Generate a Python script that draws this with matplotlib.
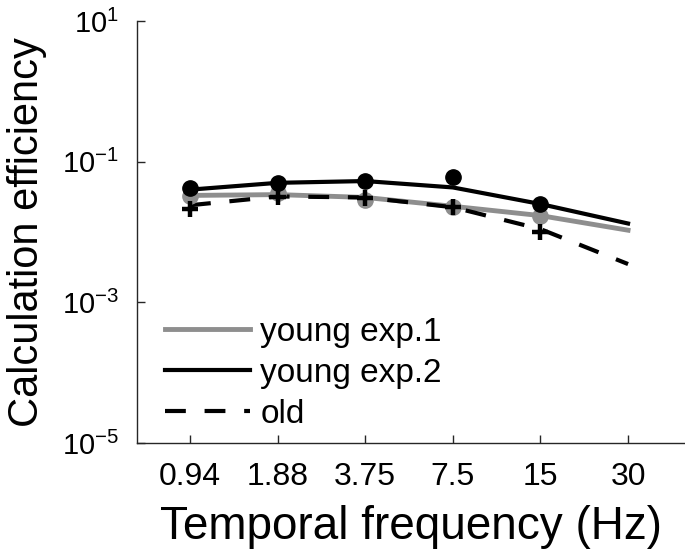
import matplotlib
matplotlib.use('Agg')
import matplotlib.pyplot as plt
import numpy as np

plt.rcParams['font.family'] = ['Liberation Sans', 'DejaVu Sans']
plt.rcParams['mathtext.fontset'] = 'custom'
plt.rcParams['mathtext.rm'] = 'Liberation Sans'
plt.rcParams['mathtext.it'] = 'Liberation Sans'

# temporal frequencies (Hz)
freqs = ['0.94', '1.88', '3.75', '7.5', '15', '30']

# measured efficiencies (markers), first five frequencies
young1_data = [0.0325, 0.0355, 0.0289, 0.0223, 0.0171]
young2_data = [0.0428, 0.0503, 0.0530, 0.0600, 0.0254]
old_data = [0.0210, 0.0310, 0.0300, 0.0225, 0.0100]

# model fits (lines), all six frequencies
young1_fit = [0.0331, 0.0340, 0.0310, 0.0232, 0.0171, 0.0106]
young2_fit = [0.0400, 0.0500, 0.0530, 0.0430, 0.0250, 0.0132]
old_fit = [0.0240, 0.0320, 0.0310, 0.0225, 0.0110, 0.0035]

grey = '#8e8e8e'
x = np.arange(1, len(freqs) + 1)
xd = x[:len(young1_data)]

fig = plt.figure(figsize=(6.85, 5.54), dpi=100)
ax = fig.add_axes([0.2, 0.2004, 0.8, 0.7617])

l1, = ax.plot(x, young1_fit, color=grey, lw=3.5, label='young exp.1')
l2, = ax.plot(x, young2_fit, color='black', lw=3, label='young exp.2')
l3, = ax.plot(x, old_fit, color='black', lw=3, ls=(0, (5, 4.5)),
              dash_capstyle='butt', label='old')
ax.plot(xd, young1_data, 'o', color=grey, ms=11, ls='none')
ax.plot(xd, young2_data, 'o', color='black', ms=11, ls='none')
ax.plot(xd, old_data, '+', color='black', ms=11, mew=3.2, ls='none')

ax.set_yscale('log')
ax.set_ylim(1e-5, 10)
ax.set_xlim(0.395, 6.65)
ax.set_yticks([1e-5, 1e-3, 1e-1, 10])
ax.set_yticklabels([r'$10^{-5}$', r'$10^{-3}$', r'$10^{-1}$', r'$10^{1}$'])
ax.yaxis.set_minor_locator(matplotlib.ticker.NullLocator())
ax.set_xticks(x)
ax.set_xticklabels(freqs)

ax.tick_params(direction='in', length=6, width=1, colors='#262626',
               labelcolor='black')
ax.tick_params(axis='x', labelsize=23, pad=14)
ax.tick_params(axis='y', labelsize=21, pad=13)
for s in ['top', 'right']:
    ax.spines[s].set_visible(False)
for s in ['left', 'bottom']:
    ax.spines[s].set_color('#262626')
    ax.spines[s].set_linewidth(1)

ax.set_xlabel('Temporal frequency (Hz)', fontsize=33, labelpad=9)
ax.set_ylabel('Calculation efficiency', fontsize=30, labelpad=11)

ax.legend(handles=[l1, l2, l3], loc='lower left', frameon=False, fontsize=24,
          handlelength=2.55, handletextpad=0.3, labelspacing=0.3,
          borderpad=0.4, borderaxespad=0, bbox_to_anchor=(0.027, 0.0))

fig.savefig('out.png', dpi=100)
